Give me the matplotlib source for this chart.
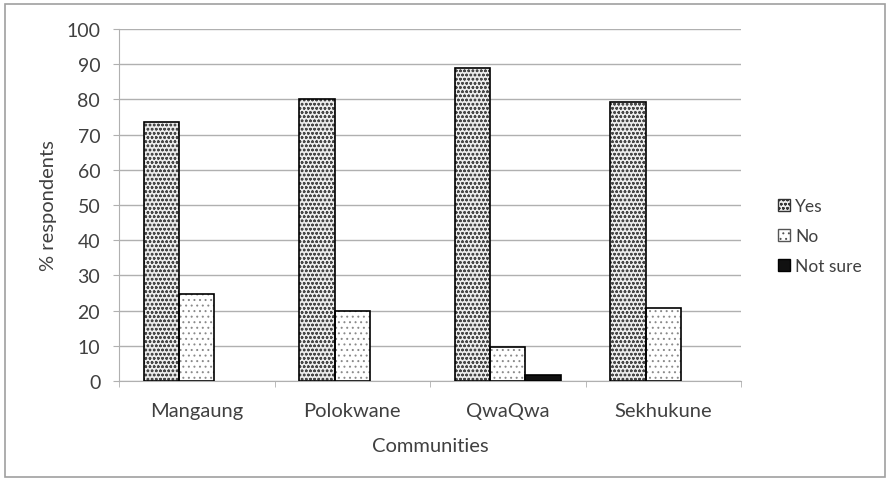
import matplotlib
matplotlib.use("Agg")
import matplotlib.pyplot as plt
import matplotlib.patches as mpatches
import numpy as np

# data
communities = ["Mangaung", "Polokwane", "QwaQwa", "Sekhukune"]
yes      = [73.7, 80.2, 88.8, 79.2]
no       = [24.6, 20.0, 9.7, 20.8]
not_sure = [0.0, 0.0, 1.7, 0.0]
yticks   = [0, 10, 20, 30, 40, 50, 60, 70, 80, 90, 100]

TXT  = "#404040"
GRID = "#b0b0b0"

plt.rcParams.update({
    "font.family": ["Lato", "DejaVu Sans"],
    "font.size": 13,
    "hatch.linewidth": 0.7,
})

fig = plt.figure(figsize=(8.91, 4.81), dpi=100)
ax = fig.add_axes([119 / 891, 1 - 382 / 481, (741 - 119) / 891, (382 - 30) / 481])

x = np.arange(len(communities))
w = 0.228


def hatched_bars(pos, vals, hatch, dot_color, face):
    # skip empty categories so no flat outline sits on the axis
    pos = np.asarray(pos, dtype=float)
    vals = np.asarray(vals, dtype=float)
    keep = vals > 0
    ax.bar(pos[keep], vals[keep], w, color=face, edgecolor=dot_color, hatch=hatch,
           linewidth=0, zorder=3)
    ax.bar(pos[keep], vals[keep], w, facecolor="none", edgecolor="black",
           linewidth=1.2, zorder=4)


hatched_bars(x - w, yes, "oooo", "#484848", "#ececec")
hatched_bars(x, no, "...", "#8a8a8a", "white")
hatched_bars(x + w, not_sure, None, "black", "#111111")

ax.set_xlim(-0.5, len(communities) - 0.5)
ax.set_ylim(0, 100)
ax.set_yticks(yticks)
ax.set_xticks(x)
ax.set_xticklabels(communities, color=TXT, fontsize=14.5)
ax.set_xticks(np.arange(len(communities) + 1) - 0.5, minor=True)
ax.tick_params(axis="x", which="major", length=0, pad=15)
ax.tick_params(axis="x", which="minor", length=4.5, color=GRID, direction="out")
ax.tick_params(axis="y", length=4.5, color=GRID, colors=TXT, labelsize=14, pad=9)

ax.grid(True, axis="y", color=GRID, linewidth=1.0, zorder=0)
ax.set_axisbelow(True)
for s in ["top", "right"]:
    ax.spines[s].set_visible(False)
for s in ["left", "bottom"]:
    ax.spines[s].set_color(GRID)

ax.set_ylabel("% respondents", color=TXT, fontsize=14.5, labelpad=7)
ax.set_xlabel("Communities", color=TXT, fontsize=14.5, labelpad=13)

handles = [
    mpatches.Patch(facecolor="#ececec", edgecolor="#333333", hatch="oooo", label="Yes"),
    mpatches.Patch(facecolor="white", edgecolor="#555555", hatch="...", label="No"),
    mpatches.Patch(facecolor="#111111", edgecolor="black", label="Not sure"),
]
fig.legend(handles=handles, loc="center left", bbox_to_anchor=(762 / 891, 1 - 237 / 481),
           frameon=False, fontsize=12.5, handlelength=0.7, handleheight=0.7,
           handletextpad=0.3, labelspacing=0.8, labelcolor=TXT)

# outer chart border
fig.patches.append(mpatches.Rectangle((5 / 891, 3 / 481), 880 / 891, 473 / 481,
                                      transform=fig.transFigure, fill=False,
                                      edgecolor="#a0a0a0", linewidth=1.2))

fig.savefig("out.png", dpi=100)
